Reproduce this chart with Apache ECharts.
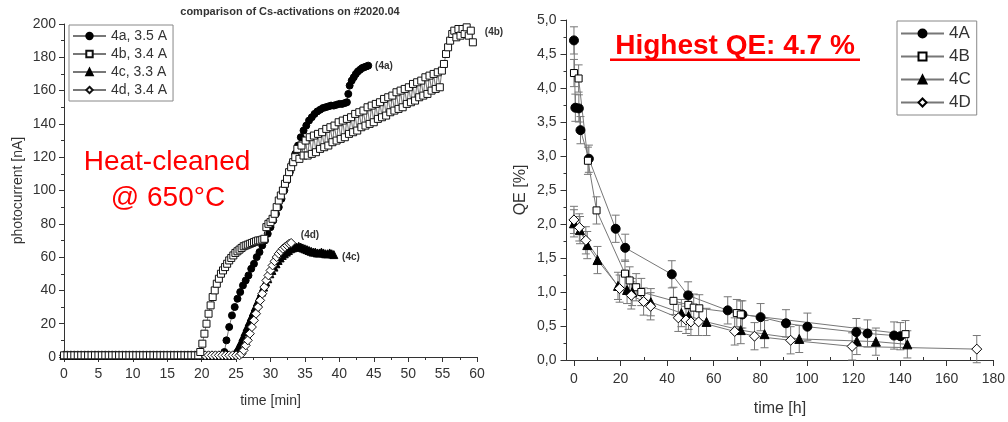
<!DOCTYPE html>
<html><head><meta charset="utf-8">
<script src="https://cdn.jsdelivr.net/npm/echarts@6/dist/echarts.min.js"></script>
<style>html,body{margin:0;padding:0;background:#fff}#c{width:1008px;height:422px}</style>
</head><body><div id="c"></div>
<script>
// ---------- Left panel: photocurrent [nA] vs time [min] ----------
const leftSeriesNames = ['4a, 3.5 A', '4b, 3.4 A', '4c, 3.3 A', '4d, 3.4 A'];
const leftXTicks = [0, 5, 10, 15, 20, 25, 30, 35, 40, 45, 50, 55, 60];

const act4a = [[0,1],[0.5,1],[1,1],[1.5,1],[2,1],[2.5,1],[3,1],[3.5,1],[4,1],[4.5,1],[5,1],[5.5,1],[6,1],[6.5,1],[7,1],[7.5,1],[8,1],[8.5,1],[9,1],[9.5,1],[10,1],[10.5,1],[11,1],[11.5,1],[12,1],[12.5,1],[13,1],[13.5,1],[14,1],[14.5,1],[15,1],[15.5,1],[16,1],[16.5,1],[17,1],[17.5,1],[18,1],[18.5,1],[19,1],[19.5,1],[20,1],[20.5,1],[21,1],[21.5,1],[22,1],[22.5,1],[23,1],
 [23.3,3],[23.6,10],[24,18],[24.4,25],[24.8,30],[25.2,35],[25.6,39],[26,43],[26.4,46],[26.8,49],[27.2,53],[27.6,56],[28,60],[28.4,63],[28.8,67],[29.2,70],[29.6,74],[30,78],[30.4,82],[30.8,86],[31.2,90],[31.6,95],[32,100],[32.4,106],[32.8,111],[33.2,117],[33.6,122],[34,127],[34.4,132],[34.8,136],[35.2,139],[35.6,142],[36,144],[36.4,146],[36.8,147.5],[37.2,148.5],[37.6,149.5],[38,150],[38.4,150.5],[38.8,151],[39.2,151],[39.6,151.5],[40,152],[40.4,152],[40.8,152.5],[41.1,153],[41.3,158],[41.5,163],[41.8,166],[42.1,168],[42.4,170],[42.7,171.5],[43,172.5],[43.3,173.5],[43.6,174],[43.9,174.5],[44.2,175]];

const act4b = [[0,1],[0.5,1],[1,1],[1.5,1],[2,1],[2.5,1],[3,1],[3.5,1],[4,1],[4.5,1],[5,1],[5.5,1],[6,1],[6.5,1],[7,1],[7.5,1],[8,1],[8.5,1],[9,1],[9.5,1],[10,1],[10.5,1],[11,1],[11.5,1],[12,1],[12.5,1],[13,1],[13.5,1],[14,1],[14.5,1],[15,1],[15.5,1],[16,1],[16.5,1],[17,1],[17.5,1],[18,1],[18.5,1],[19,1],[19.5,1],
 [19.8,3],[20.1,8],[20.4,14],[20.7,20],[21,26],[21.3,31],[21.6,36],[21.9,40],[22.2,44],[22.5,47],[22.8,50],[23.1,52],[23.4,54],[23.7,56],[24,58],[24.3,59.5],[24.6,61],[24.9,62.5],[25.2,63.5],[25.5,64.5],[25.8,65.5],[26.1,66.5],[26.4,67],[26.7,67.5],[27,68],[27.3,68.5],[27.6,69],[27.9,69.5],[28.2,70],[28.5,70],[28.8,70.5],[29.1,71],
 [29.4,78],[29.7,80],[30,81],[30.3,83],[30.6,86],[30.9,90],[31.2,94],[31.5,97],[31.8,100],[32.1,104],[32.4,107],[32.7,111],[33,114],[33.3,117],[33.6,120],[33.9,125],[34.2,119],[34.5,127],[34.8,121],
 [35.1,130],[35.4,121],[35.7,132],[36,122],[36.3,133],[36.6,123],[36.9,134],[37.2,125],[37.5,135],[37.8,126],[38.1,137],[38.4,127],[38.7,138],[39,129],[39.3,139],[39.6,130],[39.9,141],[40.2,131],[40.5,142],[40.8,132],[41.1,143],[41.4,134],[41.7,144],[42,135],[42.3,146],[42.6,136],[42.9,147],[43.2,138],[43.5,148],[43.8,139],[44.1,150],[44.4,140],[44.7,151],[45,141],[45.3,152],[45.6,143],[45.9,153],[46.2,144],[46.5,155],[46.8,145],[47.1,156],[47.4,147],[47.7,157],[48,148],[48.3,159],[48.6,149],[48.9,160],[49.2,150],[49.5,161],[49.8,152],[50.1,162],[50.4,153],[50.7,164],[51,154],[51.3,165],[51.6,156],[51.9,166],[52.2,157],[52.5,168],[52.8,158],[53.1,169],[53.4,160],[53.7,170],[54,161],[54.3,171],[54.6,162],[54.9,172],
 [55.2,176],[55.5,182],[55.8,186],[56.1,190],[56.4,194],[56.7,196],[57,192],[57.3,197],[57.6,193],[57.9,197],[58.2,194],[58.5,198],[58.8,193],[59.1,196],[59.4,189]];

const act4c = [[0,1],[0.5,1],[1,1],[1.5,1],[2,1],[2.5,1],[3,1],[3.5,1],[4,1],[4.5,1],[5,1],[5.5,1],[6,1],[6.5,1],[7,1],[7.5,1],[8,1],[8.5,1],[9,1],[9.5,1],[10,1],[10.5,1],[11,1],[11.5,1],[12,1],[12.5,1],[13,1],[13.5,1],[14,1],[14.5,1],[15,1],[15.5,1],[16,1],[16.5,1],[17,1],[17.5,1],[18,1],[18.5,1],[19,1],[19.5,1],[20,1],[20.5,1],[21,1],[21.5,1],[22,1],[22.5,1],[23,1],[23.5,1],[24,1],[24.5,1],
 [24.8,2],[25.1,4],[25.4,6],[25.7,9],[26,12],[26.3,15],[26.6,18],[26.9,21],[27.2,24],[27.5,27],[27.8,30],[28.1,33],[28.4,36],[28.7,39],[29,42],[29.3,45],[29.6,47],[29.9,50],[30.2,52],[30.5,54],[30.8,56],[31.1,58],[31.4,59.5],[31.7,61],[32,62],[32.3,63],[32.6,64],[32.9,65],[33.2,65.5],[33.5,66],[33.8,66],[34.1,66.5],[34.4,66],[34.7,65.5],[35,65],[35.3,64.5],[35.6,64],[35.9,63.5],[36.2,63],[36.5,63],[36.8,62.5],[37.1,62.5],[37.4,63],[37.7,62.5],[38,62],[38.3,62],[38.6,62.5],[38.9,62],[39.2,61.5]];

const act4d = [[0,1],[0.5,1],[1,1],[1.5,1],[2,1],[2.5,1],[3,1],[3.5,1],[4,1],[4.5,1],[5,1],[5.5,1],[6,1],[6.5,1],[7,1],[7.5,1],[8,1],[8.5,1],[9,1],[9.5,1],[10,1],[10.5,1],[11,1],[11.5,1],[12,1],[12.5,1],[13,1],[13.5,1],[14,1],[14.5,1],[15,1],[15.5,1],[16,1],[16.5,1],[17,1],[17.5,1],[18,1],[18.5,1],[19,1],[19.5,1],[20,1],[20.5,1],[21,1],[21.5,1],[22,1],[22.5,1],[23,1],[23.5,1],[24,1],[24.5,1],[25,1],[25.5,1],
 [25.8,2],[26.1,4],[26.4,7],[26.7,10],[27,14],[27.3,18],[27.6,22],[27.9,26],[28.2,30],[28.5,34],[28.8,38],[29.1,42],[29.4,46],[29.7,49],[30,52],[30.3,55],[30.6,57.5],[30.9,60],[31.2,62],[31.5,63.5],[31.8,65],[32.1,66],[32.4,67],[32.7,68],[33,68.5]];

// ---------- Right panel: QE [%] vs time [h] ----------
const rightSeriesNames = ['4A', '4B', '4C', '4D'];
const rightXTicks = [0, 20, 40, 60, 80, 100, 120, 140, 160, 180];
const rightXMinorTicks = [10, 30, 50, 70, 90, 110, 130, 150, 170];
const qe4A = [[0,4.70],[0.6,3.71],[2.1,3.70],[2.8,3.38],[6.4,2.96],[17.9,1.93],[22,1.65],[42,1.26],[49,0.95],[66,0.73],[72.3,0.67],[80.1,0.63],[91,0.54],[100.2,0.49],[121.2,0.41],[126,0.39],[137.4,0.36],[140.1,0.35]];
const qe4B = [[0,4.22],[2,4.14],[6,2.93],[9.7,2.20],[21.9,1.27],[23.9,1.17],[26.7,1.07],[28.9,1.00],[42.7,0.87],[49.1,0.81],[51.4,0.77],[53.8,0.76],[69.9,0.69],[71.6,0.67],[142.3,0.38]];
const qe4C = [[0,2.01],[2.6,1.91],[5.7,1.69],[10.1,1.47],[18.9,1.09],[22.8,1.03],[25,1.00],[33,0.85],[46.1,0.69],[49.2,0.65],[56.9,0.56],[71.6,0.44],[81.8,0.38],[96.7,0.31],[121.4,0.28],[129.6,0.27],[143.1,0.23]];
const qe4D = [[0,2.06],[2.3,1.95],[5.1,1.76],[19.6,1.05],[24.6,0.95],[29.9,0.86],[32.9,0.79],[44.8,0.62],[48.1,0.59],[50.2,0.56],[53.5,0.56],[69,0.42],[77.5,0.35],[93,0.29],[119.4,0.20],[172.9,0.16]];
const qeError = 0.2;

// ---------- chart ----------
const FONT = '"Liberation Sans", Arial, sans-serif';
const AX = '#333';
const chart = echarts.init(document.getElementById('c'), null, {renderer: 'canvas'});

const axisCommon = {
  axisLine: {show: true, onZero: false, lineStyle: {color: AX, width: 1}},
  axisTick: {show: true, length: 5, lineStyle: {color: AX}},
  minorTick: {show: true, splitNumber: 2, length: 3, lineStyle: {color: AX}},
  splitLine: {show: false},
  minorSplitLine: {show: false},
  axisLabel: {color: '#333', fontSize: 14, fontFamily: FONT},
  nameTextStyle: {color: '#333', fontSize: 14, fontFamily: FONT},
  nameLocation: 'middle'
};

const markerStyles = [
  {symbol: 'circle', size: 7, color: '#000', border: '#000'},
  {symbol: 'rect', size: 7, color: '#fff', border: '#111'},
  {symbol: 'triangle', size: 8, color: '#000', border: '#000'},
  {symbol: 'diamond', size: 9, color: '#fff', border: '#111'}
];
const leftData = [act4a, act4b, act4c, act4d];
const rightData = [qe4A, qe4B, qe4C, qe4D];
const rightMarker = [
  {symbol: 'circle', size: 9, color: '#000', border: '#000'},
  {symbol: 'rect', size: 7, color: '#fff', border: '#000'},
  {symbol: 'triangle', size: 9, color: '#000', border: '#000'},
  {symbol: 'diamond', size: 10, color: '#fff', border: '#000'}
];

const series = [];
leftData.forEach((d, i) => {
  const m = markerStyles[i];
  series.push({
    type: 'line', name: leftSeriesNames[i], xAxisIndex: 0, yAxisIndex: 0,
    data: d, showAllSymbol: true, symbol: m.symbol, symbolSize: m.size,
    lineStyle: {color: '#777', width: 1},
    itemStyle: {color: m.color, borderColor: m.border, borderWidth: 1},
    z: 3 + (i === 1 ? 1 : 0), animation: false
  });
});
rightData.forEach((d, i) => {
  series.push({
    type: 'custom', name: rightSeriesNames[i] + ' err', xAxisIndex: 1, yAxisIndex: 1,
    data: d, animation: false, silent: true, z: 1,
    renderItem: function (params, api) {
      const x = api.value(0), y = api.value(1);
      const top = api.coord([x, y + qeError]);
      const bot = api.coord([x, y - qeError]);
      const hw = 4;
      const st = {stroke: '#777', lineWidth: 1};
      return {type: 'group', children: [
        {type: 'line', shape: {x1: top[0], y1: top[1], x2: bot[0], y2: bot[1]}, style: st},
        {type: 'line', shape: {x1: top[0] - hw, y1: top[1], x2: top[0] + hw, y2: top[1]}, style: st},
        {type: 'line', shape: {x1: bot[0] - hw, y1: bot[1], x2: bot[0] + hw, y2: bot[1]}, style: st}
      ]};
    }
  });
});
rightData.forEach((d, i) => {
  const m = rightMarker[i];
  series.push({
    type: 'line', name: rightSeriesNames[i], xAxisIndex: 1, yAxisIndex: 1,
    data: d, showAllSymbol: true, symbol: m.symbol, symbolSize: m.size,
    lineStyle: {color: '#777', width: 1},
    itemStyle: {color: m.color, borderColor: m.border, borderWidth: 1},
    z: 3, animation: false
  });
});

const option = {
  animation: false,
  backgroundColor: '#fff',
  textStyle: {fontFamily: FONT},
  grid: [
    {left: 64, top: 24, width: 413, height: 333},
    {left: 566.5, top: 20, width: 429.2, height: 345.7}
  ],
  xAxis: [
    Object.assign({}, axisCommon, {gridIndex: 0, type: 'value', min: 0, max: 60, interval: 5,
      name: 'time [min]', nameGap: 37,
      axisLabel: Object.assign({}, axisCommon.axisLabel, {margin: 10, customValues: leftXTicks})}),
    Object.assign({}, axisCommon, {gridIndex: 1, type: 'value', min: -3.2, max: 180,
      name: 'time [h]', nameGap: 41, nameTextStyle: Object.assign({}, axisCommon.nameTextStyle, {fontSize: 16}),
      minorTick: {show: false},
      axisTick: {show: true, length: 6, lineStyle: {color: AX}, customValues: rightXTicks},
      axisLabel: Object.assign({}, axisCommon.axisLabel, {margin: 12, customValues: rightXTicks})}),
    {gridIndex: 1, type: 'value', min: -3.2, max: 180, axisLine: {show: false},
      axisLabel: {show: false, customValues: rightXMinorTicks}, splitLine: {show: false},
      axisTick: {show: true, length: 3, lineStyle: {color: AX}, customValues: rightXMinorTicks}}
  ],
  yAxis: [
    Object.assign({}, axisCommon, {gridIndex: 0, type: 'value', min: 0, max: 200, interval: 20,
      name: 'photocurrent [nA]', nameGap: 39,
      axisLabel: Object.assign({}, axisCommon.axisLabel, {margin: 8})}),
    Object.assign({}, axisCommon, {gridIndex: 1, type: 'value', min: 0, max: 5, interval: 0.5,
      name: 'QE [%]', nameGap: 38, nameTextStyle: Object.assign({}, axisCommon.nameTextStyle, {fontSize: 16}),
      axisTick: {show: true, length: 6, lineStyle: {color: AX}},
      axisLabel: Object.assign({}, axisCommon.axisLabel, {margin: 10,
        formatter: v => v.toFixed(1).replace('.', ',')})})
  ],
  legend: [
    {data: leftSeriesNames, orient: 'vertical', left: 69, top: 25, itemWidth: 33, itemHeight: 8, itemGap: 4,
      borderColor: '#888', borderWidth: 1, padding: [4, 6, 4, 3], selectedMode: false,
      textStyle: {fontSize: 14, color: '#333', fontFamily: FONT}},
    {data: rightSeriesNames, orient: 'vertical', left: 897, top: 21, itemWidth: 43, itemHeight: 10, itemGap: 6,
      borderColor: '#888', borderWidth: 1, padding: [4, 6, 4, 3], selectedMode: false,
      textStyle: {fontSize: 17, color: '#333', fontFamily: FONT}}
  ],
  graphic: [
    {type: 'text', style: {text: 'comparison of Cs-activations on #2020.04', x: 290, y: 12,
      align: 'center', verticalAlign: 'middle', fill: '#333', font: 'bold 11px ' + FONT}},
    {type: 'text', style: {text: 'Heat-cleaned', x: 167, y: 162, align: 'center', verticalAlign: 'middle', fill: '#ff0000', font: '28px ' + FONT}},
    {type: 'text', style: {text: '@ 650°C', x: 168, y: 198, align: 'center', verticalAlign: 'middle', fill: '#ff0000', font: '28px ' + FONT}},
    {type: 'text', style: {text: 'Highest QE: 4.7 %', x: 735, y: 46, align: 'center', verticalAlign: 'middle', fill: '#ff0000', font: 'bold 28px ' + FONT}},
    {type: 'rect', shape: {x: 610, y: 58.5, width: 250, height: 2.5}, style: {fill: '#ff0000'}},
    {type: 'text', style: {text: '(4a)', x: 384, y: 66, align: 'center', verticalAlign: 'middle', fill: '#333', font: 'bold 10px ' + FONT}},
    {type: 'text', style: {text: '(4b)', x: 494, y: 32, align: 'center', verticalAlign: 'middle', fill: '#333', font: 'bold 10px ' + FONT}},
    {type: 'text', style: {text: '(4d)', x: 310, y: 235, align: 'center', verticalAlign: 'middle', fill: '#333', font: 'bold 10px ' + FONT}},
    {type: 'text', style: {text: '(4c)', x: 351, y: 257, align: 'center', verticalAlign: 'middle', fill: '#333', font: 'bold 10px ' + FONT}}
  ],
  series: series
};
chart.setOption(option);
</script>
</body></html>
